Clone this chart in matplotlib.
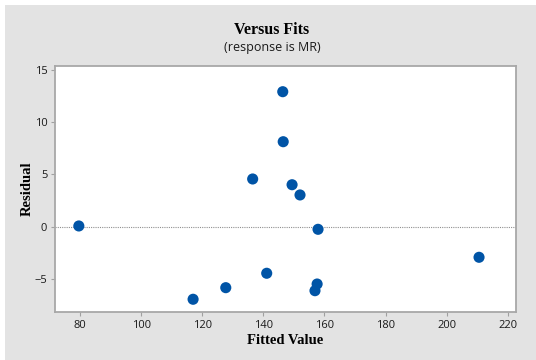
import matplotlib
matplotlib.use('Agg')
import matplotlib.pyplot as plt
from matplotlib.patches import Rectangle

# fitted values and residuals
fitted = [79.6, 117.0, 127.7, 136.5, 141.1, 146.35, 146.5, 149.4, 152.0,
          157.9, 157.6, 156.9, 210.6]
residual = [0.07, -6.95, -5.84, 4.57, -4.46, 12.93, 8.14, 4.02, 3.04,
            -0.25, -5.49, -6.13, -2.93]

xticks = [80, 100, 120, 140, 160, 180, 200, 220]
yticks = [-5, 0, 5, 10, 15]

fig = plt.figure(figsize=(5.36, 3.6), dpi=100, facecolor='white')
# gray panel behind everything
fig.patches.append(Rectangle((5 / 536, 0), 1, 1 - 5 / 360, transform=fig.transFigure,
                             facecolor='#e3e3e3', edgecolor='none', zorder=-10))

ax = fig.add_axes([55 / 536, 48 / 360, 461 / 536, 246.3 / 360])
ax.set_facecolor('white')

ax.axhline(0, color='#909090', linestyle=(0, (1, 1)), linewidth=0.8, zorder=1)
ax.scatter(fitted, residual, s=64, color='#0054a6', edgecolors='none', zorder=3)

ax.set_xlim(71.8, 222.7)
ax.set_ylim(-8.17, 15.42)
ax.set_xticks(xticks)
ax.set_yticks(yticks)

for s in ax.spines.values():
    s.set_color('#a8a8a8')
    s.set_linewidth(1.3)
ax.tick_params(colors='#a0a0a0', labelcolor='#1a1a1a', labelsize=8,
               length=3, width=0.8, pad=2.5)
for lab in ax.get_xticklabels() + ax.get_yticklabels():
    lab.set_family('Open Sans')

ax.set_xlabel('Fitted Value', family='Liberation Serif', fontweight='bold',
              fontsize=10.5, va='center')
ax.set_ylabel('Residual', family='Liberation Serif', fontweight='bold',
              fontsize=10.5, va='center')
ax.xaxis.set_label_coords(0.5, -28.5 / 246.3)
ax.yaxis.set_label_coords(-28 / 461, 0.5)

fig.text(272 / 536, 1 - 30.5 / 360, 'Versus Fits', ha='center', va='center',
         family='Liberation Serif', fontweight='bold', fontsize=11.5)
fig.text(272.5 / 536, 1 - 47.5 / 360, '(response is MR)', ha='center', va='center',
         family='Open Sans', fontsize=9, color='#1a1a1a')

fig.savefig('out.png', dpi=100, facecolor=fig.get_facecolor())
